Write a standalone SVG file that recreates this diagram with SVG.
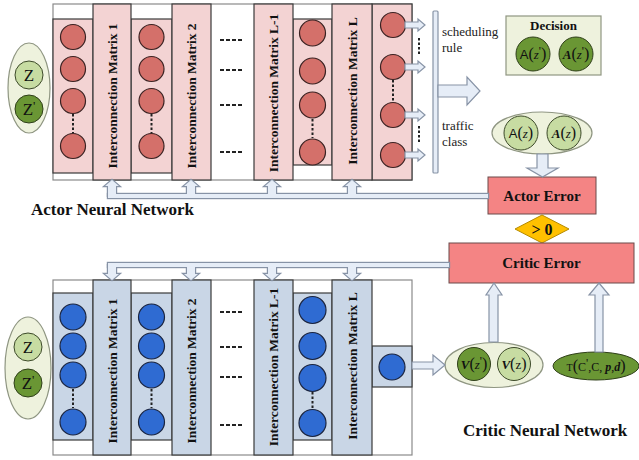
<svg xmlns="http://www.w3.org/2000/svg" width="639" height="460" viewBox="0 0 639 460">
<style>
.outer{fill:#fff;stroke:#8a8a8a;stroke-width:1.2}
.pk{fill:#f3d3d3;stroke:#3a3a3a;stroke-width:1.2}
.bl{fill:#c9d6e6;stroke:#3a3a3a;stroke-width:1.2}
.rn{fill:#d4706a;stroke:#3a2222;stroke-width:1.2}
.bn{fill:#2f6bd2;stroke:#1b2540;stroke-width:1.2}
.dots{stroke:#222;stroke-width:2;stroke-dasharray:2.5,2}
.dash{stroke:#222;stroke-width:2.2;stroke-dasharray:4,2}
.im{font-family:"Liberation Serif",serif;font-weight:bold;font-size:13.5px;fill:#111;text-anchor:middle}
.lbl{font-family:"Liberation Serif",serif;font-size:13px;fill:#222}
.ttl{font-family:"Liberation Serif",serif;font-weight:bold;font-size:17px;fill:#111}
.err{font-family:"Liberation Serif",serif;font-weight:bold;font-size:15px;fill:#111;text-anchor:middle}
.math{font-family:"Liberation Serif",serif;font-size:13px;fill:#111;text-anchor:middle}
.pr{font-size:12px}
.ar{fill:#e6edf7;stroke:#8793a6;stroke-width:1.2}
.arS{fill:none;stroke:#8793a6;stroke-width:2.4}
.arF{fill:#e6edf7;stroke:none}
.lg{fill:#c7dca2;stroke:#3d4a2a;stroke-width:1}
.dg{fill:#6a9634;stroke:#2f3f1a;stroke-width:1}
.pale{fill:#eef2dd;stroke:#8f9682;stroke-width:1.2}
.zt{font-family:"Liberation Serif",serif;font-size:17px;fill:#111;text-anchor:middle}
</style>
<defs>
<g id="rcol1">
<circle class="rn" cx="0" cy="37" r="12.5"/><circle class="rn" cx="0" cy="69" r="12.5"/><circle class="rn" cx="0" cy="101" r="12.5"/><circle class="rn" cx="0" cy="146" r="12.5"/>
<line class="dots" x1="0" y1="114" x2="0" y2="133"/>
</g>
<g id="bcol1">
<circle class="bn" cx="0" cy="317" r="13"/><circle class="bn" cx="0" cy="346" r="13"/><circle class="bn" cx="0" cy="375" r="13"/><circle class="bn" cx="0" cy="422" r="13"/>
<line class="dots" x1="0" y1="389" x2="0" y2="408"/>
</g>
</defs>

<!-- Actor network -->
<g id="actor-network">
<rect class="outer" x="53" y="4" width="359" height="176"/>
<rect class="pk" x="53" y="19" width="40" height="154"/>
<use href="#rcol1" x="73"/>
<rect class="pk" x="131" y="19" width="41" height="154"/>
<use href="#rcol1" x="151.5"/>
<rect class="pk" x="293" y="19" width="39" height="146"/>
<circle class="rn" cx="312.5" cy="33" r="13"/><circle class="rn" cx="312.5" cy="71" r="13"/><circle class="rn" cx="312.5" cy="105" r="13"/><circle class="rn" cx="312.5" cy="152" r="13"/>
<line class="dots" x1="312.5" y1="119" x2="312.5" y2="138"/>
<rect class="pk" x="372" y="4" width="40" height="176"/>
<circle class="rn" cx="393" cy="25" r="12.5"/><circle class="rn" cx="393" cy="67" r="12.5"/><circle class="rn" cx="393" cy="115" r="12.5"/><circle class="rn" cx="393" cy="155" r="12.5"/>
<line class="dots" x1="393" y1="80" x2="393" y2="102"/>
<line class="dash" x1="220" y1="40" x2="243" y2="40"/><line class="dash" x1="220" y1="70" x2="243" y2="70"/><line class="dash" x1="220" y1="105" x2="243" y2="105"/><line class="dash" x1="220" y1="152" x2="243" y2="152"/>
</g>
<g id="actor-im1"><rect class="pk" x="93" y="4" width="38" height="176"/><text class="im" transform="translate(116.5,96) rotate(-90)">Interconnection Matrix 1</text></g>
<g id="actor-im2"><rect class="pk" x="172" y="4" width="39" height="176"/><text class="im" transform="translate(196,96) rotate(-90)">Interconnection Matrix 2</text></g>
<g id="actor-imL1"><rect class="pk" x="254" y="4" width="39" height="176"/><text class="im" transform="translate(278,93) rotate(-90)">Interconnection Matrix L-1</text></g>
<g id="actor-imL"><rect class="pk" x="332" y="4" width="40" height="176"/><text class="im" transform="translate(356.5,91) rotate(-90)">Interconnection Matrix L</text></g>

<g id="actor-z">
<ellipse class="pale" cx="29" cy="88" rx="21" ry="45"/>
<circle class="lg" cx="29" cy="75" r="14"/><text class="zt" x="29" y="81">Z</text>
<circle class="dg" cx="29" cy="109" r="14"/><text class="zt" x="29" y="115">Z<tspan dy="-5" font-size="13">'</tspan></text>
</g>

<text id="actor-title" class="ttl" x="31" y="215">Actor Neural Network</text>

<!-- output side -->
<g id="output-bar">
<rect class="ar" x="433" y="11" width="5" height="162" rx="1"/>
<line class="dots" x1="419" y1="38" x2="419" y2="55"/>
<line class="dots" x1="419" y1="126" x2="419" y2="143"/>
<text class="lbl" x="442" y="36">scheduling</text>
<text class="lbl" x="442" y="52">rule</text>
<text class="lbl" x="442" y="130">traffic</text>
<text class="lbl" x="442" y="146">class</text>
</g>

<g id="decision">
<rect class="pale" x="506" y="16" width="95" height="59"/>
<text class="err" x="553.5" y="30" style="font-size:13px">Decision</text>
<circle class="dg" cx="533" cy="54" r="17"/>
<text class="math" x="533" y="59"><tspan font-family="Liberation Sans">A</tspan><tspan font-size="16">(</tspan><tspan font-style="italic">z</tspan><tspan class="pr" dy="-4">'</tspan><tspan dy="4" font-size="16">)</tspan></text>
<circle class="dg" cx="576" cy="54" r="17"/>
<text class="math" x="576" y="59"><tspan font-weight="bold" font-style="italic">A</tspan><tspan font-size="16">(</tspan><tspan font-style="italic">z</tspan><tspan class="pr" dy="-4">'</tspan><tspan dy="4" font-size="16">)</tspan></text>
</g>

<g id="actor-target">
<ellipse class="pale" cx="542" cy="133" rx="50" ry="21"/>
<circle class="lg" cx="521" cy="133" r="17"/>
<text class="math" x="521" y="138"><tspan font-family="Liberation Sans">A</tspan><tspan font-size="16">(</tspan><tspan font-style="italic">z</tspan><tspan font-size="16">)</tspan></text>
<circle class="lg" cx="564" cy="133" r="17"/>
<text class="math" x="564" y="138"><tspan font-weight="bold" font-style="italic">A</tspan><tspan font-size="16">(</tspan><tspan font-style="italic">z</tspan><tspan font-size="16">)</tspan></text>
</g>

<g id="actor-error">
<rect x="488" y="177" width="108" height="37" fill="#f48484" stroke="#6b4a4a" stroke-width="1"/>
<text class="err" x="542" y="201">Actor Error</text>
</g>

<g id="gt-zero">
<polygon points="515,229 542,215 569,229 542,243" fill="#ffc000" stroke="#b58a00" stroke-width="1"/>
<text class="err" x="542" y="235" style="font-size:16px">&gt; 0</text>
</g>

<g id="critic-error">
<rect x="449" y="243" width="185" height="40" fill="#f48484" stroke="#6b4a4a" stroke-width="1"/>
<text class="err" x="541.5" y="268">Critic Error</text>
</g>

<!-- Critic network -->
<g id="critic-network">
<rect class="outer" x="53" y="280" width="359" height="175"/>
<rect class="bl" x="53" y="293" width="40" height="147"/>
<use href="#bcol1" x="73"/>
<rect class="bl" x="131" y="293" width="41" height="147"/>
<use href="#bcol1" x="151.5"/>
<rect class="bl" x="293" y="293" width="39" height="147"/>
<circle class="bn" cx="312.5" cy="310" r="13.5"/><circle class="bn" cx="312.5" cy="346" r="13.5"/><circle class="bn" cx="312.5" cy="378" r="13.5"/><circle class="bn" cx="312.5" cy="423" r="13.5"/>
<line class="dots" x1="312.5" y1="392" x2="312.5" y2="409"/>
<line class="dash" x1="220" y1="312" x2="243" y2="312"/><line class="dash" x1="220" y1="347" x2="243" y2="347"/><line class="dash" x1="220" y1="377" x2="243" y2="377"/><line class="dash" x1="220" y1="425" x2="243" y2="425"/>
<rect class="bl" x="372" y="346" width="40" height="41"/>
<circle class="bn" cx="392" cy="367" r="13"/>
</g>
<g id="critic-im1"><rect class="bl" x="93" y="280" width="38" height="175"/><text class="im" transform="translate(116.5,371) rotate(-90)">Interconnection Matrix 1</text></g>
<g id="critic-im2"><rect class="bl" x="172" y="280" width="39" height="175"/><text class="im" transform="translate(196,371) rotate(-90)">Interconnection Matrix 2</text></g>
<g id="critic-imL1"><rect class="bl" x="254" y="280" width="39" height="175"/><text class="im" transform="translate(278,367) rotate(-90)">Interconnection Matrix L-1</text></g>
<g id="critic-imL"><rect class="bl" x="332" y="280" width="40" height="175"/><text class="im" transform="translate(356.5,366) rotate(-90)">Interconnection Matrix L</text></g>

<g id="critic-z">
<ellipse class="pale" cx="28" cy="368" rx="23" ry="51"/>
<circle class="lg" cx="28" cy="347" r="14"/><text class="zt" x="28" y="353">Z</text>
<circle class="dg" cx="28" cy="383" r="14"/><text class="zt" x="28" y="389">Z<tspan dy="-5" font-size="13">'</tspan></text>
</g>

<g id="value">
<ellipse class="pale" cx="494" cy="365" rx="49" ry="22.5"/>
<circle class="dg" cx="474" cy="364" r="16.5"/>
<text class="math" x="474" y="369"><tspan font-weight="bold" font-style="italic">V</tspan><tspan font-size="16">(</tspan><tspan font-style="italic">z</tspan><tspan class="pr" dy="-4">'</tspan><tspan dy="4" font-size="16">)</tspan></text>
<circle class="lg" cx="514" cy="364" r="16.5"/>
<text class="math" x="514" y="369"><tspan font-weight="bold" font-style="italic">V</tspan><tspan font-size="16">(</tspan><tspan>z</tspan><tspan font-size="16">)</tspan></text>
</g>

<g id="cost">
<ellipse class="dg" cx="596" cy="366" rx="43" ry="14"/>
<text class="math" x="596" y="371" style="font-size:12px"><tspan font-size="10">T</tspan><tspan font-size="16">(</tspan>C<tspan class="pr" dy="-4">'</tspan><tspan dy="4">,C, </tspan><tspan font-weight="bold" font-style="italic">p</tspan>,<tspan font-weight="bold" font-style="italic">d</tspan><tspan font-size="16">)</tspan></text>
</g>

<text id="critic-title" class="ttl" x="463" y="436">Critic Neural Network</text>

<!-- connectors -->
<g id="connectors">
<polygon class="ar" points="405,22 418,22 418,19 425,25 418,31 418,28 405,28"/>
<polygon class="ar" points="405,64 418,64 418,61 425,67 418,73 418,70 405,70"/>
<polygon class="ar" points="405,112 418,112 418,109 425,115 418,121 418,118 405,118"/>
<polygon class="ar" points="405,152 418,152 418,149 425,155 418,161 418,158 405,158"/>
<polygon class="ar" points="438,85 467,85 467,77 480,91 467,105 467,97 438,97"/>
<polygon class="ar" points="537,154 548,154 548,168 558,168 542.5,177 527,168 537,168"/>
<polygon class="ar" points="412,362 433,362 433,355 445,365 433,375 433,369 412,369"/>
<polygon class="ar" points="489,342 489,295 486,295 494,283 502,295 498,295 498,342"/>
<polygon class="ar" points="595,352 595,295 589,295 599,283 609,295 603,295 603,352"/>
<g class="arS">
<rect x="108" y="194" width="380" height="4"/>
<path d="M108,197 V186 H105 L112,180 L119,186 H116 V197"/>
<path d="M187,197 V186 H184 L191,180 L198,186 H195 V197"/>
<path d="M268,197 V186 H265 L272,180 L279,186 H276 V197"/>
<path d="M348,197 V186 H345 L352,180 L359,186 H356 V197"/>
</g>
<g class="arF">
<rect x="108" y="194" width="380" height="4"/>
<path d="M108,197 V186 H105 L112,180 L119,186 H116 V197Z"/>
<path d="M187,197 V186 H184 L191,180 L198,186 H195 V197Z"/>
<path d="M268,197 V186 H265 L272,180 L279,186 H276 V197Z"/>
<path d="M348,197 V186 H345 L352,180 L359,186 H356 V197Z"/>
</g>
<g class="arS">
<rect x="108" y="263" width="341" height="4"/>
<path d="M108,264 V274 H105 L112,280 L119,274 H116 V264"/>
<path d="M187,264 V274 H184 L191,280 L198,274 H195 V264"/>
<path d="M268,264 V274 H265 L272,280 L279,274 H276 V264"/>
<path d="M348,264 V274 H345 L352,280 L359,274 H356 V264"/>
</g>
<g class="arF">
<rect x="108" y="263" width="341" height="4"/>
<path d="M108,264 V274 H105 L112,280 L119,274 H116 V264Z"/>
<path d="M187,264 V274 H184 L191,280 L198,274 H195 V264Z"/>
<path d="M268,264 V274 H265 L272,280 L279,274 H276 V264Z"/>
<path d="M348,264 V274 H345 L352,280 L359,274 H356 V264Z"/>
</g>
</g>
</svg>
